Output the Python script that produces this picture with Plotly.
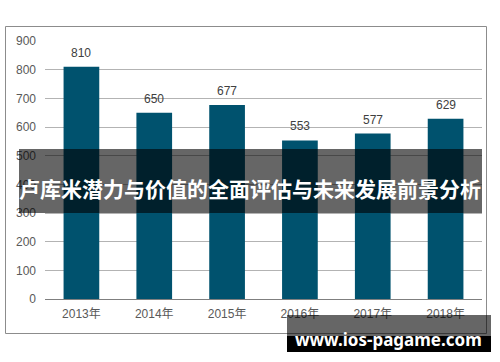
import plotly.graph_objects as go

categories = ["2013年", "2014年", "2015年", "2016年", "2017年", "2018年"]
values = [810, 650, 677, 553, 577, 629]
y_ticks = [0, 100, 200, 300, 400, 500, 600, 700, 800, 900]

banner_text = "卢库米潜力与价值的全面评估与未来发展前景分析"
watermark_text = "www.ios-pagame.com"

W, H = 500, 362
L, R, T, B = 45, 18, 41, 63
PW, PH = W - L - R, H - T - B


def px(x):
    return (x - L) / PW


def py(y):
    return (H - B - y) / PH


fig = go.Figure()
fig.add_trace(go.Bar(
    x=categories, y=values,
    marker=dict(color="#00526e", line=dict(width=0)),
    width=0.49,
    hoverinfo="skip",
))

annotations = []
for c, v in zip(categories, values):
    annotations.append(dict(
        x=c, y=v, xref="x", yref="y", text=str(v), showarrow=False,
        yanchor="bottom", yshift=5,
        font=dict(family="Liberation Sans, Arial", size=12, color="#404040"),
    ))

annotations.append(dict(
    x=px(250), y=py(187.5), xref="paper", yref="paper", text=f"<b>{banner_text}</b>",
    showarrow=False, xanchor="center", yanchor="middle",
    font=dict(family="Noto Sans CJK SC", size=21, color="white"),
))
annotations.append(dict(
    x=px(388), y=py(339), xref="paper", yref="paper", text=f"<b>{watermark_text}</b>",
    showarrow=False, xanchor="center", yanchor="middle",
    font=dict(family="Noto Sans", size=17, color="white"),
))

shapes = [
    # outer frame
    dict(type="rect", xref="paper", yref="paper", x0=px(5.5), x1=px(486.5), y0=py(333.5), y1=py(26.5),
         line=dict(color="#8c8c8c", width=1), fillcolor="rgba(0,0,0,0)", layer="below"),
    # banner
    dict(type="rect", xref="paper", yref="paper", x0=px(19), x1=px(482), y0=py(213), y1=py(149),
         line=dict(width=0), fillcolor="rgba(0,0,0,0.6)", layer="above"),
    # watermark boxes
    dict(type="rect", xref="paper", yref="paper", x0=px(287), x1=px(491), y0=py(336), y1=py(315),
         line=dict(width=0), fillcolor="rgba(0,0,0,0.6)", layer="above"),
    dict(type="rect", xref="paper", yref="paper", x0=px(287), x1=px(491), y0=py(352), y1=py(336),
         line=dict(width=0), fillcolor="#000000", layer="above"),
]

fig.update_layout(
    width=W, height=H,
    margin=dict(l=L, r=R, t=T, b=B, pad=0),
    paper_bgcolor="white", plot_bgcolor="white",
    showlegend=False,
    bargap=0.51,
    annotations=annotations,
    shapes=shapes,
    font=dict(family="Liberation Sans, Arial, Noto Sans CJK SC", color="#595959"),
)
fig.update_xaxes(
    type="category", showgrid=False, showline=True, linecolor="#7f7f7f", linewidth=1,
    ticks="", tickfont=dict(size=12, color="#595959", family="Liberation Sans, Noto Sans CJK SC"),
    ticklabelstandoff=4, fixedrange=True,
)
fig.update_yaxes(
    range=[0, 900], tickvals=y_ticks, showgrid=True, gridcolor="#b3b3b3", gridwidth=1,
    zeroline=False, showline=False, ticks="",
    tickfont=dict(size=12, color="#595959", family="Liberation Sans, Arial"),
    ticklabelstandoff=8, fixedrange=True,
)

fig.write_html(
    "out.html",
    config={"displayModeBar": False},
    post_script="document.body.style.margin='0';document.body.style.overflow='hidden';",
)
